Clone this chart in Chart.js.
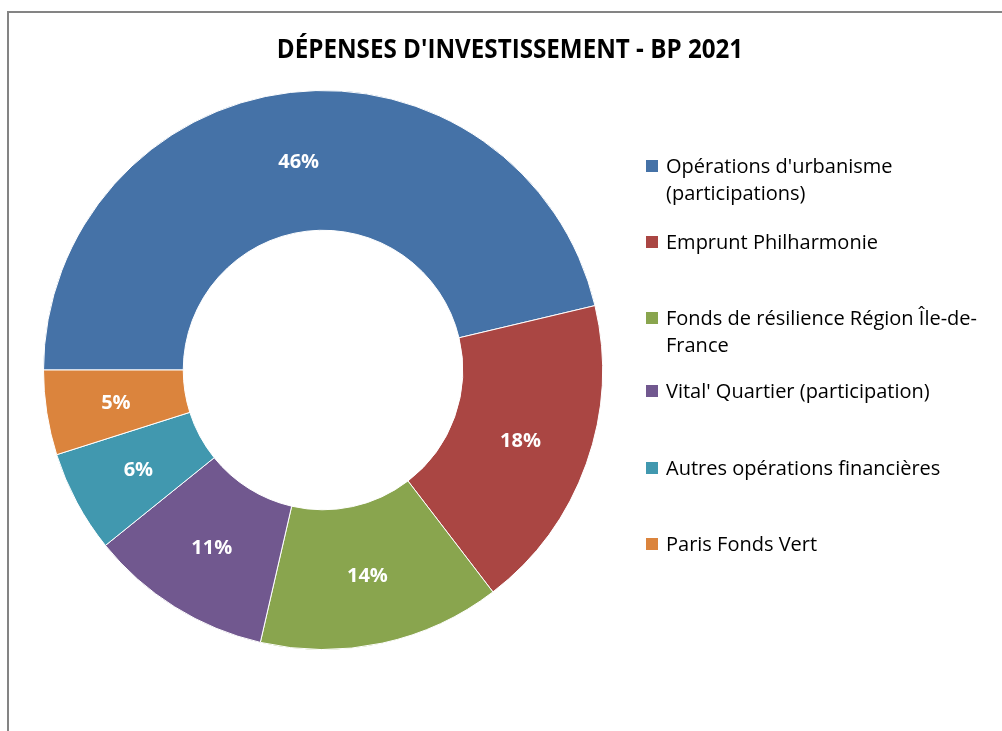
<!DOCTYPE html>
<html lang="fr">
<head>
<meta charset="UTF-8">
<title>Dépenses d'investissement - BP 2021</title>
<style>
  html, body { margin: 0; padding: 0; background: #fff; }
  #wrap { position: relative; width: 1002px; height: 731px; overflow: hidden; font-family: "Open Sans", "Noto Sans", sans-serif; }
  #frame { position: absolute; left: 7px; top: 11px; width: 1100px; height: 800px; border-top: 2px solid #848484; border-left: 2px solid #848484; }
  #title { position: absolute; left: 0; top: 30px; width: 1020px; text-align: center; font-weight: bold; font-size: 26px; color: #000; transform: scaleX(0.93); transform-origin: 510px 0; }
  #legend { position: absolute; left: 646px; top: 0; }
  .item { position: absolute; left: 0; width: 350px; font-size: 20px; line-height: 27px; color: #000; }
  .box { position: absolute; left: 0; top: 8px; width: 12px; height: 12px; }
  .txt { position: absolute; left: 20px; top: 0; white-space: nowrap; }
  canvas { position: absolute; left: 0; top: 0; }
</style>
</head>
<body>
<div id="wrap">
  <div id="frame"></div>
  <canvas id="myChart" width="1002" height="731"></canvas>
  <div id="title">DÉPENSES D'INVESTISSEMENT - BP 2021</div>
  <div id="legend"></div>
</div>

<script src="https://cdn.jsdelivr.net/npm/chart.js"></script>
<script>
  // postes de dépense (libellés de légende, une ligne par entrée)
  const v_labels = [
    ["Opérations d'urbanisme", "(participations)"],
    ["Emprunt Philharmonie"],
    ["Fonds de résilience Région Île-de-", "France"],
    ["Vital' Quartier (participation)"],
    ["Autres opérations financières"],
    ["Paris Fonds Vert"]
  ];
  // parts en %
  const v_values = [46.3, 18.3, 14.0, 10.6, 5.9, 4.9];
  const v_colors = ["#4572A7", "#AA4643", "#89A54E", "#71588F", "#4198AF", "#DB843D"];

  // légende maison (texte sur deux lignes, espacement Excel)
  const legendTop = [152, 228, 304, 377, 454, 530];
  const leg = document.getElementById("legend");
  for (let i = 0; i < v_labels.length; i++) {
    let it = document.createElement("div");
    it.className = "item";
    it.style.top = legendTop[i] + "px";
    it.innerHTML = '<div class="box" style="background:' + v_colors[i] + '"></div>' +
      '<div class="txt">' + v_labels[i].join("<br>") + '</div>';
    leg.appendChild(it);
  }

  // étiquettes % au milieu de chaque secteur
  const pctLabels = {
    id: "pctLabels",
    afterDatasetsDraw(chart) {
      const ctx = chart.ctx;
      const data = chart.data.datasets[0].data;
      const total = data.reduce((a, b) => a + b, 0);
      const meta = chart.getDatasetMeta(0);
      ctx.save();
      ctx.fillStyle = "#fff";
      ctx.font = "bold 20px 'Open Sans', sans-serif";
      ctx.textAlign = "center";
      ctx.textBaseline = "middle";
      meta.data.forEach((arc, i) => {
        const p = arc.tooltipPosition();
        ctx.fillText(Math.round(data[i] / total * 100) + "%", p.x, p.y + 1);
      });
      ctx.restore();
    }
  };

  const ctx = document.getElementById("myChart");
  new Chart(ctx, {
    type: "doughnut",
    data: {
      labels: v_labels.map(l => l.join(" ")),
      datasets: [{
        data: v_values,
        backgroundColor: v_colors,
        borderColor: "#fff",
        borderWidth: 1
      }]
    },
    options: {
      responsive: false,
      animation: false,
      rotation: 270,
      cutout: "50%",
      layout: { padding: { left: 43, right: 399, top: 90, bottom: 81 } },
      plugins: {
        legend: { display: false },
        title: { display: false },
        tooltip: { enabled: false }
      }
    },
    plugins: [pctLabels]
  });
</script>
</body>
</html>
